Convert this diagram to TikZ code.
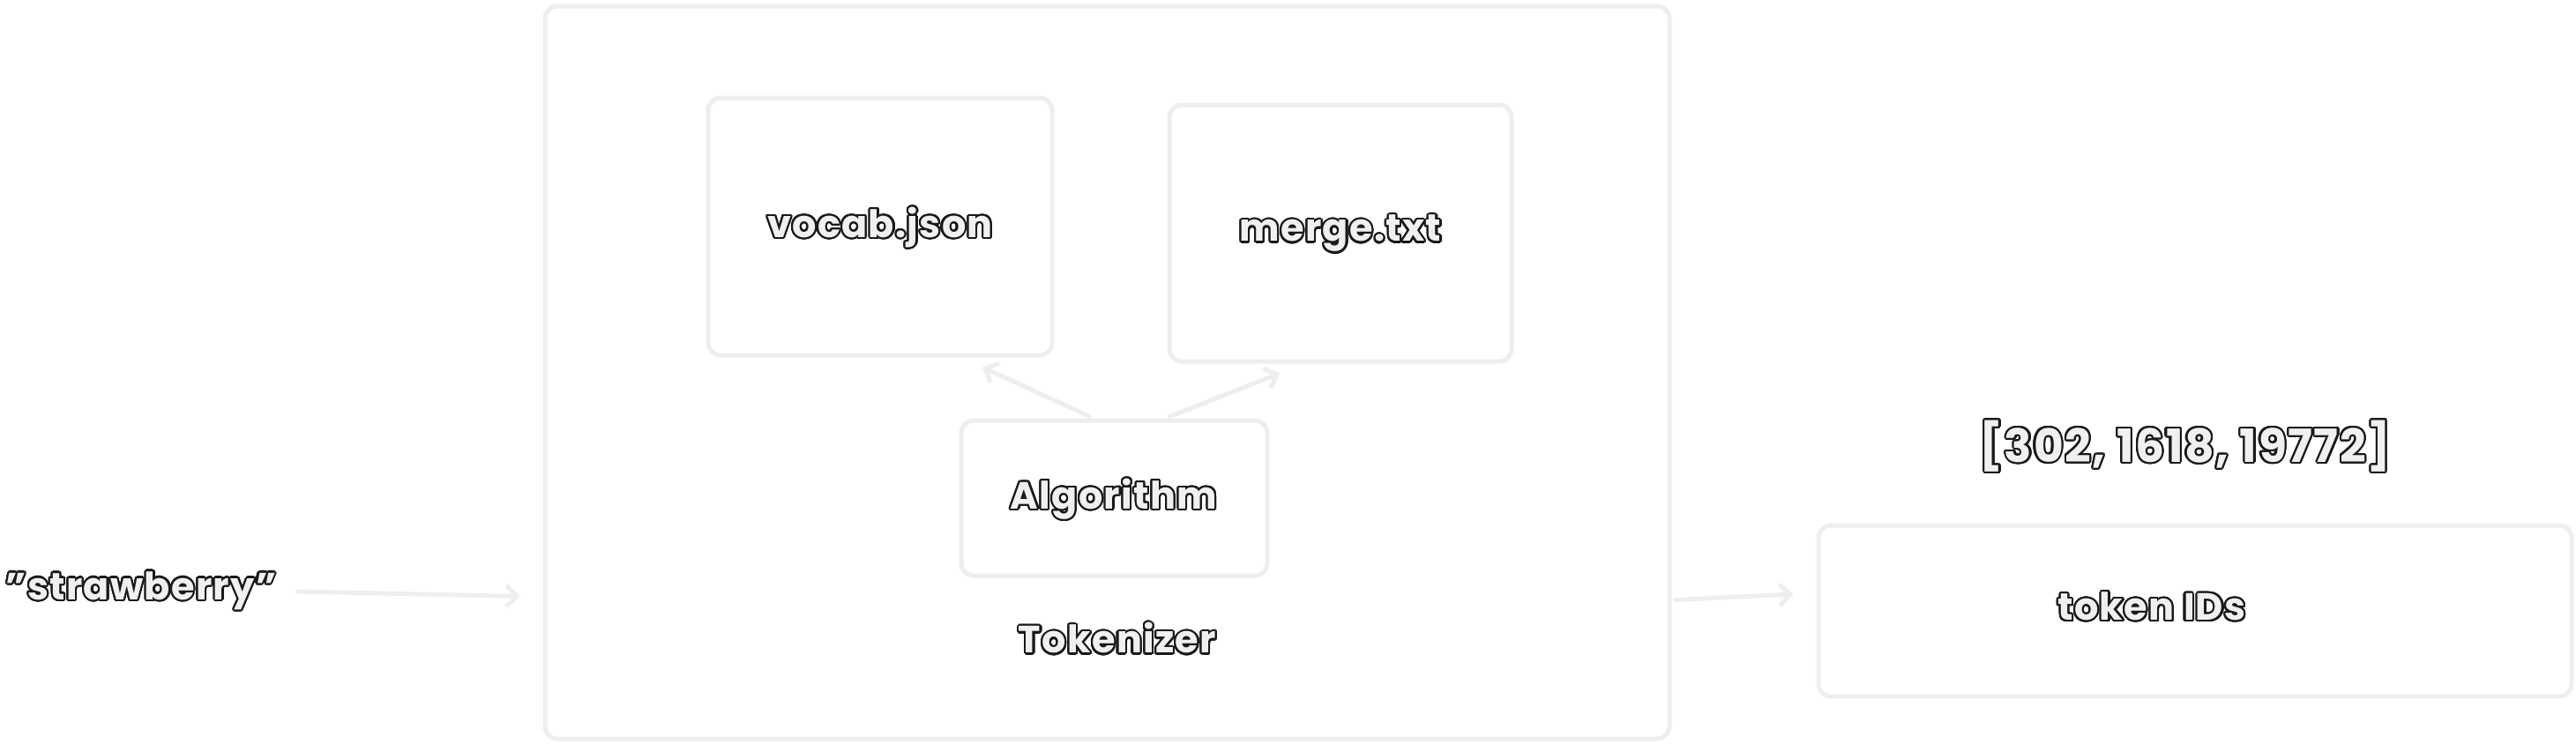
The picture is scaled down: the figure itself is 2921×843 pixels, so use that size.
\documentclass[tikz,border=0pt]{standalone}
\usepackage{fontspec}
\setmainfont{Poppins}[LetterSpace=3]
\usepackage{contour}
\contourlength{1.1pt}
\contournumber{24}
\usetikzlibrary{arrows.meta,calc}
\definecolor{strk}{RGB}{238,238,238}
\definecolor{txtfill}{RGB}{240,240,240}
\definecolor{txtline}{RGB}{25,25,25}
\newcommand{\otext}[1]{\contour{txtline}{\textcolor{txtfill}{#1}}}
\tikzset{
  box/.style={draw=strk, line width=2.5pt, rounded corners=7pt, fill=white, inner sep=0pt},
  lbl/.style={font=\fontsize{21.5}{25}\selectfont\bfseries, inner sep=0pt},
  biglbl/.style={font=\fontsize{26}{30}\selectfont\bfseries, inner sep=0pt},
  conn/.style={draw=strk, line width=2.5pt, line cap=round, -{Straight Barb[length=6pt,width=12pt,line width=2.5pt]}}
}
\begin{document}
\begin{tikzpicture}[x=0.5pt,y=-0.5pt]
\useasboundingbox (0,0) rectangle (2921,843);
% tokenizer outer box
\node[box, minimum width=1275*0.5pt, minimum height=831*0.5pt] (tok) at (1255.5,422.5) {};
\node[box, minimum width=390*0.5pt, minimum height=292*0.5pt] (vocab) at (998,257) {};
\node[box, minimum width=388*0.5pt, minimum height=291*0.5pt] (merge) at (1520,264.5) {};
\node[box, minimum width=347*0.5pt, minimum height=176*0.5pt] (alg) at (1263.5,565) {};
\node[box, minimum width=854*0.5pt, minimum height=194*0.5pt] (ids) at (2489,693) {};
% labels
\node[lbl] (vocabt) at (998,259) {\otext{vocab.json}};
\node[lbl] (merget) at (1520,266) {\otext{merge.txt}};
\node[lbl] (algt) at (1263,567) {\otext{Algorithm}};
\node[lbl] (tokt) at (1267,725) {\otext{Tokenizer}};
\node[lbl] (idst) at (2440,689) {\otext{token IDs}};
\node[biglbl] (nums) at (2478,507) {\otext{[302, 1618, 19772]}};
\node[lbl] (straw) at (160,671) {\otext{\char"22 strawberry\char"22}};
% connectors
\draw[conn] ($(straw.east)+(24,0)$) -- ($(tok.west)+(-26,254)$);
\draw[conn] ($(alg.north)+(-28,-2)$) -- ($(vocab.south)+(116,11)$);
\draw[conn] ($(alg.north)+(63,-2)$) -- ($(merge.south)+(-69,11)$);
\draw[conn] ($(tok.east)+(4,258)$) -- ($(ids.west)+(-26,-19)$);
\end{tikzpicture}
\end{document}
